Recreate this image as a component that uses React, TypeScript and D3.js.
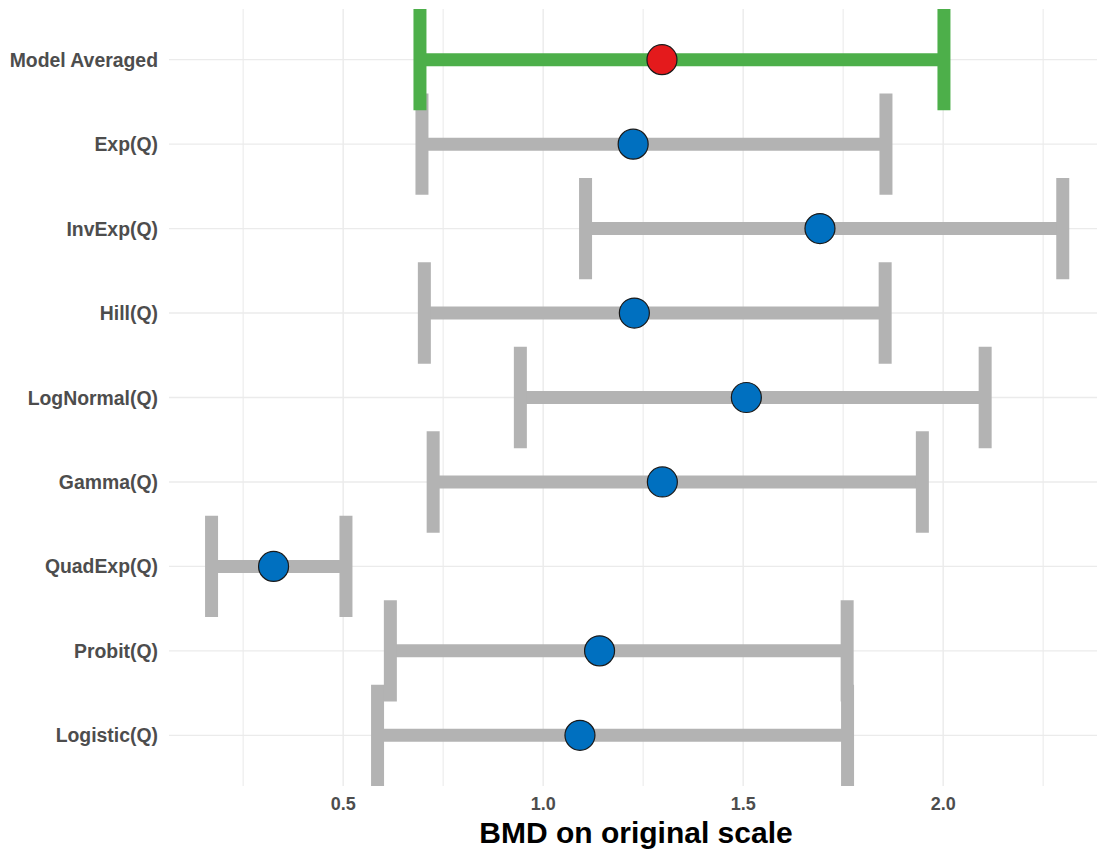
// forest-style plot of BMD estimates with confidence bars, drawn with d3
import React, { useEffect, useRef } from 'react';
import * as d3 from 'd3';

const models = ['Model Averaged', 'Exp(Q)', 'InvExp(Q)', 'Hill(Q)', 'LogNormal(Q)', 'Gamma(Q)', 'QuadExp(Q)', 'Probit(Q)', 'Logistic(Q)'];
const bmd = [1.297, 1.225, 1.692, 1.228, 1.508, 1.298, 0.326, 1.141, 1.092];
const bmdl = [0.692, 0.697, 1.106, 0.703, 0.943, 0.725, 0.171, 0.618, 0.586];
const bmdu = [2.002, 1.857, 2.299, 1.855, 2.105, 1.948, 0.507, 1.760, 1.761];
const majorTicks = [0.5, 1.0, 1.5, 2.0];
const minorTicks = [0.25, 0.75, 1.25, 1.75, 2.25];

const W = 1097;
const H = 856;
const FONT = '"Liberation Sans", Arial, sans-serif';

const App = () => {
  const ref = useRef<SVGSVGElement>(null);

  useEffect(() => {
    document.body.style.margin = '0';
    const svg = d3.select(ref.current);
    svg.selectAll('*').remove();

    const panel = { left: 169, top: 9, bottom: 786 };

    // x scale with ggplot-like 5% expansion
    const lo = d3.min(bmdl) as number;
    const hi = d3.max(bmdu) as number;
    const pad = (hi - lo) * 0.05;
    // 400px per unit, so the panel runs slightly past the right edge
    const x = d3.scaleLinear()
      .domain([lo - pad, hi + pad])
      .range([panel.left, panel.left + (hi - lo + 2 * pad) * 400]);

    const y = d3.scalePoint<string>()
      .domain(models)
      .range([panel.top, panel.bottom])
      .padding(0.6);
    const step = y.step();

    const grid = svg.append('g');
    grid.selectAll('line.minor')
      .data(minorTicks)
      .enter().append('line')
      .attr('x1', d => x(d)).attr('x2', d => x(d))
      .attr('y1', panel.top).attr('y2', panel.bottom)
      .attr('stroke', '#EBEBEB').attr('stroke-width', 1.1);
    grid.selectAll('line.major')
      .data(majorTicks)
      .enter().append('line')
      .attr('x1', d => x(d)).attr('x2', d => x(d))
      .attr('y1', panel.top).attr('y2', panel.bottom)
      .attr('stroke', '#EBEBEB').attr('stroke-width', 1.4);
    grid.selectAll('line.row')
      .data(models)
      .enter().append('line')
      .attr('x1', panel.left).attr('x2', W)
      .attr('y1', d => y(d) as number).attr('y2', d => y(d) as number)
      .attr('stroke', '#EBEBEB').attr('stroke-width', 1.4);

    // error bars, model averaged drawn last so it sits on top
    const order = d3.range(models.length).reverse();
    const bars = svg.append('g');
    order.forEach(i => {
      const cy = y(models[i]) as number;
      const col = i === 0 ? '#4DAF4A' : '#B3B3B3';
      const g = bars.append('g').attr('stroke', col).attr('stroke-width', 13).attr('fill', 'none');
      g.append('line')
        .attr('x1', x(bmdl[i])).attr('x2', x(bmdu[i]))
        .attr('y1', cy).attr('y2', cy);
      [bmdl[i], bmdu[i]].forEach(v => {
        g.append('line')
          .attr('x1', x(v)).attr('x2', x(v))
          .attr('y1', cy - step * 0.6).attr('y2', cy + step * 0.6);
      });
    });

    // points
    svg.append('g')
      .selectAll('circle')
      .data(d3.range(models.length))
      .enter()
      .append('circle')
      .attr('cx', i => x(bmd[i]))
      .attr('cy', i => y(models[i]) as number)
      .attr('r', 15)
      .attr('fill', i => (i === 0 ? '#E41A1C' : '#0070C0'))
      .attr('stroke', '#1a1a1a')
      .attr('stroke-width', 1.2);

    // y labels
    svg.append('g')
      .selectAll('text')
      .data(models)
      .enter().append('text')
      .attr('x', 158)
      .attr('y', d => (y(d) as number) + 7)
      .attr('text-anchor', 'end')
      .style('font-family', FONT)
      .style('font-weight', 'bold')
      .style('font-size', '19.4px')
      .style('fill', '#4D4D4D')
      .text(d => d);

    // x tick labels
    svg.append('g')
      .selectAll('text')
      .data(majorTicks)
      .enter().append('text')
      .attr('x', d => x(d))
      .attr('y', 810)
      .attr('text-anchor', 'middle')
      .style('font-family', FONT)
      .style('font-weight', 'bold')
      .style('font-size', '18px')
      .style('fill', '#4D4D4D')
      .text(d => d3.format('.1f')(d));

    // x axis title
    svg.append('text')
      .attr('x', 636)
      .attr('y', 843)
      .attr('text-anchor', 'middle')
      .style('font-family', FONT)
      .style('font-weight', 'bold')
      .style('font-size', '30px')
      .style('fill', '#000')
      .text('BMD on original scale');
  }, []);

  return (
    <svg ref={ref} width={W} height={H} style={{ display: 'block', background: '#fff' }} />
  );
};

export default App;
